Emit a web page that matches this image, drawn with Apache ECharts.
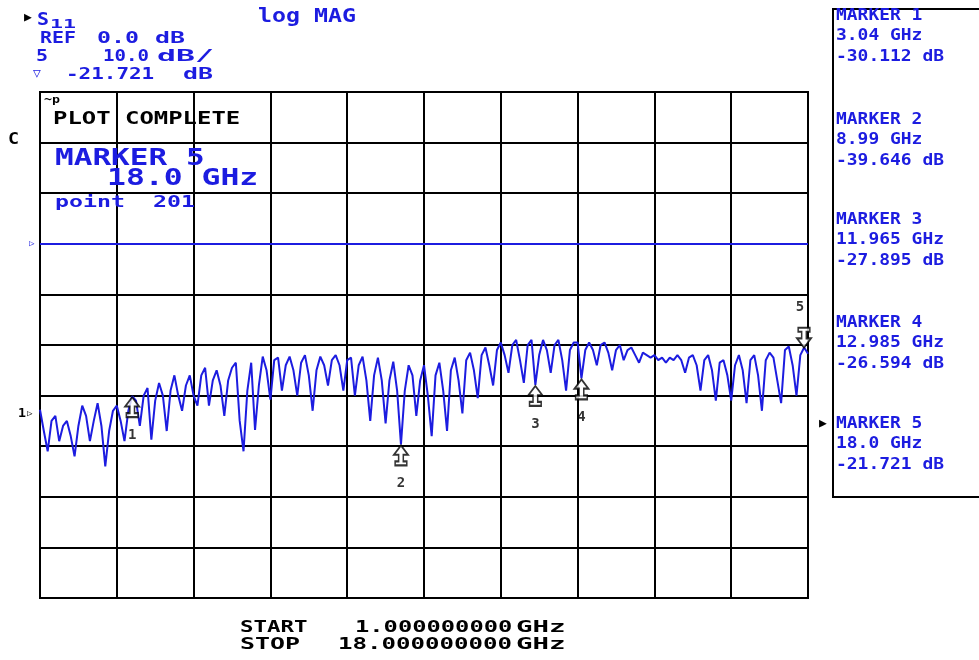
<!DOCTYPE html>
<html>
<head>
<meta charset="utf-8">
<script src="https://cdn.jsdelivr.net/npm/echarts@6/dist/echarts.min.js"></script>
<style>
html,body{margin:0;padding:0;background:#fff;}
#c{width:979px;height:660px;}
</style>
</head>
<body>
<div id="c"></div>
<script>
// ---- data ----
const START_GHZ = 1.0;
const STOP_GHZ = 18.0;
const POINTS = 201;
const REF_DB = 0.0;
const SCALE_DB_PER_DIV = 10.0;
const Y_MIN = -70;
const Y_MAX = 30;

// S11 log magnitude trace (dB), 201 sweep points
const s11dB = [
  -32.8, -37, -41, -35, -34, -39, -36, -35, -38, -42, -36, -32, -34, -39, -35, -31.5, -36, -44, -37, -33,
  -32, -35, -39, -33, -30.112, -31, -36, -30, -28.5, -38.7, -31, -27.5, -30, -37, -29, -26, -30, -33, -28, -26,
  -30, -32, -26, -24.5, -32, -27, -25, -28, -34, -27, -24.5, -23.5, -35, -41, -29, -23.5, -36.8, -28, -22.3, -25,
  -30.8, -23, -22.5, -29, -24, -22.3, -25, -30, -23.5, -22, -26, -33, -25, -22.3, -24, -28, -23, -22, -24, -29,
  -23, -22.5, -30, -24, -22.3, -27, -35, -26, -22.5, -27, -35.5, -27, -23.3, -29, -39.646, -29, -24, -26, -34, -27,
  -24, -30, -38, -26, -23.5, -29, -37, -25, -22.5, -27, -33.5, -23, -21.5, -25, -30.5, -22, -20.5, -24, -28, -21,
  -19.5, -22, -25.5, -20, -19, -23, -27.5, -20, -19, -27.895, -22, -19, -21, -25.5, -20, -19, -23, -29, -21, -19.5,
  -19.5, -26.594, -21, -19.5, -21, -24, -20, -19.5, -21.5, -25, -21, -20, -23, -21, -20.5, -22, -23.5, -21.5, -22, -22.5,
  -22, -23, -22.5, -23.5, -22.5, -23, -22, -23, -25.5, -22.5, -22, -24, -29, -23, -22, -25, -31, -23.5, -23, -26,
  -31, -24, -22, -25, -31.5, -23, -22, -26, -33, -23, -21.5, -22.5, -27, -31.5, -21, -20.3, -24, -30, -22, -20.5, -21.721
];

const markerNames = ['1', '2', '3', '4', '5'];
const markerPointIndex = [24, 94, 129, 141, 200];
const markerFreqText = ['3.04 GHz', '8.99 GHz', '11.965 GHz', '12.985 GHz', '18.0 GHz'];
const markerValueText = ['-30.112 dB', '-39.646 dB', '-27.895 dB', '-26.594 dB', '-21.721 dB'];
const markerValues = [-30.112, -39.646, -27.895, -26.594, -21.721];

const startText = '1.000000000';
const stopText = '18.000000000';

// sweep frequencies (linear sweep between START and STOP)
const freqLabels = [];
for (let i = 0; i < POINTS; i++) {
  freqLabels.push((START_GHZ + (STOP_GHZ - START_GHZ) * i / (POINTS - 1)).toFixed(3));
}

// ---- drawing ----
const BLUE = '#1c1ce0';
const BLACK = '#000';
const MONO = '"DejaVu Sans Mono", "Liberation Mono", monospace';

function T(x, y, s, size, color, pitch) {
  const sx = pitch ? pitch / (0.602 * size) : 1;
  return {
    type: 'text', x: x, y: y, scaleX: sx, z: 100,
    style: { text: s, font: 'bold ' + size + 'px ' + MONO, fill: color, verticalAlign: 'middle', align: 'left' }
  };
}

const graphics = [
  // header
  T(24, 18, '▶', 13, BLACK),
  T(37, 20, 'S', 18, BLUE, 12),
  T(50, 25, '11', 12, BLUE, 13),
  T(258, 17, 'log MAG', 20, BLUE, 14),
  T(40, 39, 'REF', 15, BLUE, 12),
  T(97, 39, '0.0', 15, BLUE, 14),
  T(155, 39, 'dB', 15, BLUE, 15),
  T(36, 57, '5', 15, BLUE, 12),
  T(103, 57, '10.0', 15, BLUE, 11.5),
  T(157, 57, 'dB/', 15, BLUE, 19),
  T(33, 74, '▽', 13, BLUE),
  T(66, 75, '-21.721', 15, BLUE, 12.6),
  T(183, 75, 'dB', 15, BLUE, 15),
  // inside plot
  T(44, 100, '~p', 11, BLACK, 8),
  T(53, 120, 'PLOT COMPLETE', 17, BLACK, 14.4),
  T(8, 140, 'C', 16, BLACK, 11),
  T(55, 159, 'MARKER 5', 23, BLUE, 18.7),
  T(107, 179, '18.0 GHz', 23, BLUE, 18.9),
  T(55, 203, 'point  201', 16, BLUE, 14),
  T(29, 244, '▷', 9, BLUE),
  T(18, 414, '1', 12, BLACK, 8),
  T(27, 414, '▷', 9, BLACK),
  // right marker panel
  { type: 'rect', z: 90, shape: { x: 833, y: 9, width: 200, height: 488 },
    style: { fill: 'none', stroke: BLACK, lineWidth: 2 } },
  T(819, 424, '▶', 13, BLACK),
  // bottom sweep range
  T(240, 628, 'START', 16, BLACK, 13.5),
  T(355, 628, startText, 16, BLACK, 14.3),
  T(516, 628, 'GHz', 16, BLACK, 16.5),
  T(240, 645, 'STOP', 16, BLACK, 15),
  T(338, 645, stopText, 16, BLACK, 14.5),
  T(516, 645, 'GHz', 16, BLACK, 16.5)
];
const panelTop = [16, 120, 220, 323, 424];
for (let k = 0; k < markerNames.length; k++) {
  const y0 = panelTop[k];
  graphics.push(T(836, y0, 'MARKER ' + markerNames[k], 16, BLUE, 10.8));
  graphics.push(T(836, y0 + 20, markerFreqText[k], 16, BLUE, 10.8));
  graphics.push(T(836, y0 + 41, markerValueText[k], 16, BLUE, 10.8));
}

const arrowPath = 'path://M6 0 L12 7 L8 7 L8 12 L11 12 L11 15 L1 15 L1 12 L4 12 L4 7 L0 7 Z';

const markerData = markerNames.map(function (n, k) {
  const active = k === markerNames.length - 1;
  return {
    value: [markerPointIndex[k], markerValues[k]],
    name: n,
    symbolRotate: active ? 180 : 0,
    symbolOffset: active ? [-4, -16] : [0, 11],
    label: {
      show: true, formatter: n, color: BLACK, fontSize: 14, fontWeight: 'bold', fontFamily: MONO,
      position: active ? 'top' : 'bottom', distance: 0,
      offset: active ? [-4, -12] : [0, 10]
    }
  };
});

const chart = echarts.init(document.getElementById('c'), null, { renderer: 'canvas' });
chart.setOption({
  animation: false,
  backgroundColor: '#fff',
  grid: { left: 40, top: 92, width: 768, height: 506, show: true, borderColor: BLACK, borderWidth: 2, backgroundColor: 'transparent' },
  xAxis: {
    type: 'category', data: freqLabels, boundaryGap: false,
    axisLine: { show: false }, axisTick: { show: false }, axisLabel: { show: false },
    splitLine: { show: true, interval: function (i) { return i % 20 === 0; }, lineStyle: { color: BLACK, width: 2 } }
  },
  yAxis: {
    type: 'value', min: Y_MIN, max: Y_MAX, interval: SCALE_DB_PER_DIV,
    axisLine: { show: false }, axisTick: { show: false }, axisLabel: { show: false },
    splitLine: { show: true, lineStyle: { color: BLACK, width: 2 } }
  },
  series: [
    {
      type: 'line', data: s11dB, symbol: 'none', z: 3,
      lineStyle: { color: BLUE, width: 2 },
      markLine: {
        silent: true, symbol: 'none', label: { show: false },
        lineStyle: { color: BLUE, width: 2, type: 'solid' },
        data: [{ yAxis: REF_DB }]
      }
    },
    {
      type: 'scatter', data: markerData, z: 5,
      symbol: arrowPath, symbolSize: [14, 20],
      itemStyle: { color: '#fff', borderColor: BLACK, borderWidth: 1.8 }
    }
  ],
  graphic: graphics
});
</script>
</body>
</html>
